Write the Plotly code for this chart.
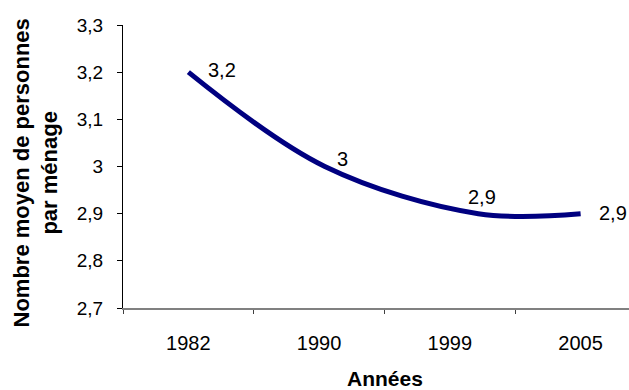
import plotly.graph_objects as go

# Average household size by census year
years = ["1982", "1990", "1999", "2005"]
persons = [3.2, 3.0, 2.9, 2.9]
labels = ["3,2", "3", "2,9", "2,9"]

# pixel offsets of each value label from its point
label_dx = [34, 18, 4, 32]
label_dy = [2, 8, 17, 1]

FONT = "Liberation Sans, Arial, sans-serif"
year_num = [int(y) for y in years]

# category axis span; the year axis is laid over it so that the first and
# last census years sit on the first and last category centres
cat_range = [-0.5, 3.37]
yrs_per_cat = (year_num[-1] - year_num[0]) / (len(years) - 1)
year_range = [year_num[0] + c * yrs_per_cat for c in cat_range]

fig = go.Figure()
# invisible trace that carries the category labels of the visible x axis
fig.add_trace(go.Scatter(x=years, y=persons, mode="none",
                         hoverinfo="skip", showlegend=False))
# smoothed line on a true year scale
fig.add_trace(go.Scatter(
    x=year_num, y=persons, mode="lines", xaxis="x2",
    line=dict(color="#000080", width=5, shape="spline", smoothing=1),
    hoverinfo="skip", showlegend=False,
))

for i, (yr, v, t) in enumerate(zip(year_num, persons, labels)):
    fig.add_annotation(x=yr, y=v, xref="x2", yref="y", text=t, showarrow=False,
                       xshift=label_dx[i], yshift=label_dy[i],
                       font=dict(family=FONT, size=20, color="black"))

# x-axis title, centred under the full category span
fig.add_annotation(x=(len(years) - 1) / 2, xref="x", y=0, yref="paper",
                   yanchor="top", yshift=-57, showarrow=False,
                   text="<b>Années</b>",
                   font=dict(family=FONT, size=21, color="black"))

# y-axis title
fig.add_annotation(x=0, xref="paper", xshift=-88, xanchor="center",
                   y=0.5, yref="paper", yshift=-7, yanchor="middle",
                   textangle=-90, showarrow=False,
                   text="<b>Nombre moyen de personnes<br>par ménage</b>",
                   font=dict(family=FONT, size=22, color="black"))

fig.update_layout(
    width=629, height=390,
    margin=dict(l=123, r=0, t=25, b=82),
    paper_bgcolor="white", plot_bgcolor="white",
    separators=", ",
    font=dict(family=FONT, size=20, color="black"),
    xaxis=dict(
        type="category", range=cat_range,
        showline=True, linecolor="#808080", linewidth=2,
        showgrid=False,
        tickson="boundaries", ticks="outside", ticklen=4,
        tickcolor="#404040", tickwidth=1,
        ticklabelstandoff=16,
        tickfont=dict(size=20),
    ),
    xaxis2=dict(
        type="linear", overlaying="x", range=year_range,
        visible=False, showgrid=False, zeroline=False,
    ),
    yaxis=dict(
        range=[2.7, 3.3], dtick=0.1, tick0=2.7,
        showline=True, linecolor="black", linewidth=1,
        showgrid=False, zeroline=False,
        ticks="outside", ticklen=5, tickcolor="black",
        ticklabelstandoff=10,
        tickfont=dict(size=19),
    ),
)

fig.write_html("out.html")
